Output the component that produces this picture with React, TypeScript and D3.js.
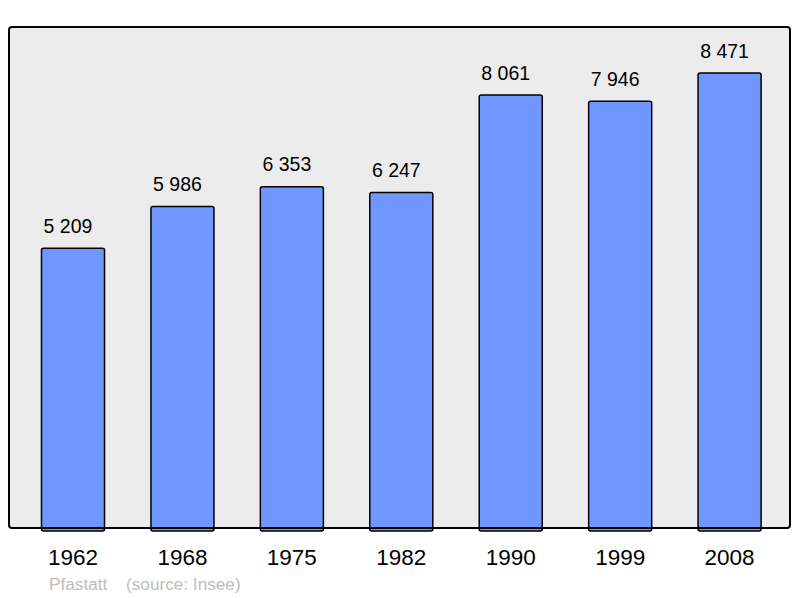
import React from "react";
import * as d3 from "d3";

const years = ["1962", "1968", "1975", "1982", "1990", "1999", "2008"];
const population = [5209, 5986, 6353, 6247, 8061, 7946, 8471];
const commune = "Pfastatt";
const source = "(source: Insee)";

const W = 800;
const H = 598;
const frame = { left: 9, top: 27, right: 790, bottom: 528 };

export default function App() {
  const x = d3
    .scaleBand<string>()
    .domain(years)
    .range([18.3, 784.3])
    .paddingInner(0.424)
    .paddingOuter(0.212);
  const y = d3.scaleLinear().domain([0, 9329]).range([frame.bottom, frame.top]);
  const fmt = (v: number) => d3.format(",")(v).replace(/,/g, " ");

  return (
    <svg
      width={W}
      height={H}
      style={{ position: "absolute", left: 0, top: 0, fontFamily: "'Liberation Sans', Arial, sans-serif" }}
    >
      <rect x={0} y={0} width={W} height={H} fill="#ffffff" />
      <rect
        x={frame.left}
        y={frame.top}
        width={frame.right - frame.left}
        height={frame.bottom - frame.top}
        rx={3}
        fill="#ececec"
        stroke="none"
      />
      {years.map((yr, i) => {
        const v = population[i];
        const bx = x(yr)!;
        const bw = x.bandwidth();
        const top = y(v);
        return (
          <g key={yr}>
            <rect
              x={bx}
              y={top}
              width={bw}
              height={frame.bottom - top + 3}
              rx={2}
              fill="#7097ff"
              stroke="#000"
              strokeWidth={1.5}
            />
            <text x={bx + bw / 2 - 5} y={top - 15.5} textAnchor="middle" fontSize={19.5} fill="#000">
              {fmt(v)}
            </text>
            <text x={bx + bw / 2} y={565} textAnchor="middle" fontSize={22.5} fill="#000">
              {yr}
            </text>
          </g>
        );
      })}
      <rect
        x={frame.left}
        y={frame.top}
        width={frame.right - frame.left}
        height={frame.bottom - frame.top}
        rx={3}
        fill="none"
        stroke="#000"
        strokeWidth={2}
      />
      <text x={49} y={589.5} fontSize={17.2} fill="#bdbdbd">
        {commune}
      </text>
      <text x={126} y={589.5} fontSize={17.2} fill="#bdbdbd">
        {source}
      </text>
    </svg>
  );
}
